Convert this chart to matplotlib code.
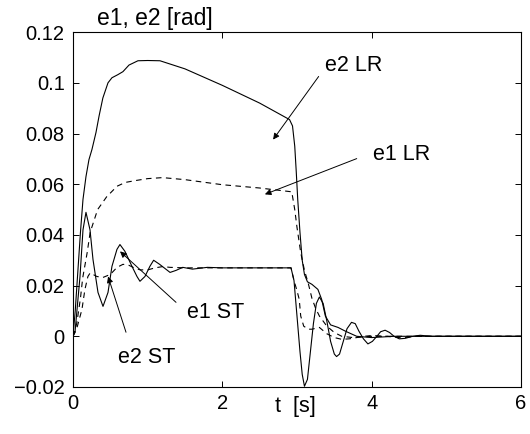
import numpy as np
import matplotlib
matplotlib.use('Agg')
import matplotlib.pyplot as plt

plt.rcParams['font.family'] = ['Liberation Sans', 'DejaVu Sans']

# e2 with LR controller (solid)
t_e2_lr = [0, 0.03, 0.067, 0.1, 0.134, 0.174, 0.214, 0.254, 0.308, 0.35, 0.4,
           0.469, 0.522, 0.6, 0.669, 0.75, 0.87, 1.0, 1.165, 1.5, 2.0, 2.5, 2.9,
           2.94, 2.97, 2.99, 3.01, 3.04, 3.07, 3.1, 3.14, 3.2, 3.28, 3.33, 3.38,
           3.45, 3.55, 3.65, 3.8, 4.0, 4.3, 5.0, 6.0]
e2_lr = [0, 0.01, 0.0264, 0.041, 0.054, 0.063, 0.0697, 0.0737, 0.0804, 0.087, 0.094,
         0.100, 0.102, 0.1032, 0.1044, 0.107, 0.1087, 0.1088, 0.1087, 0.1055, 0.099,
         0.092, 0.0855, 0.083, 0.075, 0.065, 0.054, 0.041, 0.030, 0.0244, 0.0215,
         0.0205, 0.0185, 0.0146, 0.008, 0.0045, 0.0035, 0.002, 0.0, -0.0005, 0.0,
         0.0, 0.0]

# e1 with LR controller (dashed)
t_e1_lr = [0, 0.05, 0.1, 0.13, 0.19, 0.23, 0.33, 0.45, 0.59, 0.7, 0.85, 1.0, 1.2,
           1.5, 2.0, 2.5, 2.93, 2.97, 3.0, 3.05, 3.1, 3.15, 3.2, 3.25, 3.3, 3.4,
           3.5, 3.6, 3.75, 4.0, 6.0]
e1_lr = [0, 0.005, 0.015, 0.023, 0.033, 0.041, 0.05, 0.055, 0.0592, 0.0607, 0.0615,
         0.0622, 0.0626, 0.0618, 0.0598, 0.0585, 0.057, 0.05, 0.043, 0.033, 0.026,
         0.021, 0.015, 0.011, 0.008, 0.004, 0.0015, 0.0, -0.0005, 0.0, 0.0]

# e2 with ST controller (solid)
t_e2_st = [0, 0.027, 0.094, 0.134, 0.174, 0.228, 0.268, 0.335, 0.402, 0.469, 0.522,
           0.589, 0.629, 0.696, 0.79, 0.857, 0.897, 0.964, 1.03, 1.08, 1.16, 1.3,
           1.38, 1.47, 1.6, 1.8, 2.0, 2.5, 2.92, 2.96, 3.0, 3.04, 3.07, 3.1, 3.14,
           3.18, 3.22, 3.26, 3.3, 3.35, 3.4, 3.45, 3.5, 3.53, 3.57, 3.62, 3.67,
           3.73, 3.78, 3.83, 3.89, 3.95, 4.01, 4.07, 4.12, 4.18, 4.24, 4.3, 4.37,
           4.45, 4.55, 4.65, 4.8, 5.0, 6.0]
e2_st = [0, 0.0016, 0.0236, 0.042, 0.0489, 0.042, 0.0303, 0.0173, 0.0118, 0.0173,
         0.0276, 0.0343, 0.0362, 0.0335, 0.0276, 0.0236, 0.0217, 0.0236, 0.0276, 0.030,
         0.0284, 0.0252, 0.026, 0.0272, 0.0265, 0.0272, 0.027, 0.027, 0.027, 0.022,
         0.008, -0.006, -0.015, -0.0197, -0.017, -0.006, 0.005, 0.013, 0.0155, 0.013,
         0.006, -0.002, -0.007, -0.008, -0.007, -0.002, 0.003, 0.0055, 0.005, 0.002,
         -0.001, -0.003, -0.002, 0.0, 0.0018, 0.0024, 0.0015, 0.0, -0.001, -0.0008,
         0.0, 0.0004, 0.0, 0.0, 0.0]

# e1 with ST controller (dashed)
t_e1_st = [0, 0.05, 0.12, 0.16, 0.2, 0.23, 0.32, 0.4, 0.5, 0.59, 0.67, 0.75, 0.82,
           0.9, 1.0, 1.1, 1.2, 1.3, 1.5, 2.0, 2.92, 2.96, 3.0, 3.03, 3.05, 3.09,
           3.15, 3.2, 3.3, 3.4, 3.5, 3.6, 3.7, 3.8, 3.9, 4.0, 4.2, 4.4, 4.6, 6.0]
e1_st = [0, 0.003, 0.0106, 0.0185, 0.0236, 0.025, 0.0236, 0.0232, 0.0244, 0.0272,
         0.0284, 0.028, 0.027, 0.0262, 0.0262, 0.027, 0.0275, 0.0272, 0.027, 0.027,
         0.027, 0.022, 0.018, 0.0146, 0.008, 0.004, 0.0028, 0.0028, 0.0035, 0.001,
         -0.0005, -0.0012, -0.001, -0.0005, 0.0, 0.0003, 0.0, -0.0006, 0.0, 0.0]

x_ticks = [0, 2, 4, 6]
y_ticks = [-0.02, 0, 0.02, 0.04, 0.06, 0.08, 0.1, 0.12]
y_tick_labels = ['\u22120.02', '0', '0.02', '0.04', '0.06', '0.08', '0.1', '0.12']

fig = plt.figure(figsize=(5.3, 4.34), dpi=100)
ax = fig.add_axes([0.1377, 0.1083, 0.8453, 0.8177])

ax.plot(t_e2_lr, e2_lr, color='k', lw=0.8)
ax.plot(t_e1_lr, e1_lr, color='k', lw=0.8, dashes=(5, 4))
ax.plot(t_e2_st, e2_st, color='k', lw=0.8)
ax.plot(t_e1_st, e1_st, color='k', lw=0.8, dashes=(5, 4))

ax.set_xlim(0, 6)
ax.set_ylim(-0.02, 0.12)
ax.set_xticks(x_ticks)
ax.set_xticklabels([str(v) for v in x_ticks])
ax.set_yticks(y_ticks)
ax.set_yticklabels(y_tick_labels)
ax.tick_params(direction='in', top=True, right=True, length=4, width=0.7,
               labelsize=14.5)
ax.tick_params(axis='y', pad=6)
ax.tick_params(axis='x', pad=5)
for s in ax.spines.values():
    s.set_linewidth(0.8)

# labels
ax.text(0.054, 1.039, 'e1, e2 [rad]', transform=ax.transAxes, ha='left',
        va='center', fontsize=16.5)
ax.text(0.496, -0.056, 't  [s]', transform=ax.transAxes, ha='center',
        va='center', fontsize=15.5)

# annotations
arrow = dict(arrowstyle='-|>', lw=0.7, color='k', mutation_scale=9,
             shrinkA=0, shrinkB=0)
ax.annotate('', xy=(2.68, 0.0776), xytext=(3.29, 0.1025), arrowprops=arrow)
ax.text(3.37, 0.107, 'e2 LR', ha='left', va='center', fontsize=15.5)
ax.annotate('', xy=(2.57, 0.056), xytext=(3.80, 0.0701), arrowprops=arrow)
ax.text(4.02, 0.0717, 'e1 LR', ha='left', va='center', fontsize=15.5)
ax.annotate('', xy=(0.63, 0.0335), xytext=(1.38, 0.0134), arrowprops=arrow)
ax.text(1.53, 0.0095, 'e1 ST', ha='left', va='center', fontsize=15.5)
ax.annotate('', xy=(0.47, 0.0236), xytext=(0.71, 0.0016), arrowprops=arrow)
ax.text(0.60, -0.0083, 'e2 ST', ha='left', va='center', fontsize=15.5)

fig.savefig('out.png', dpi=100)
